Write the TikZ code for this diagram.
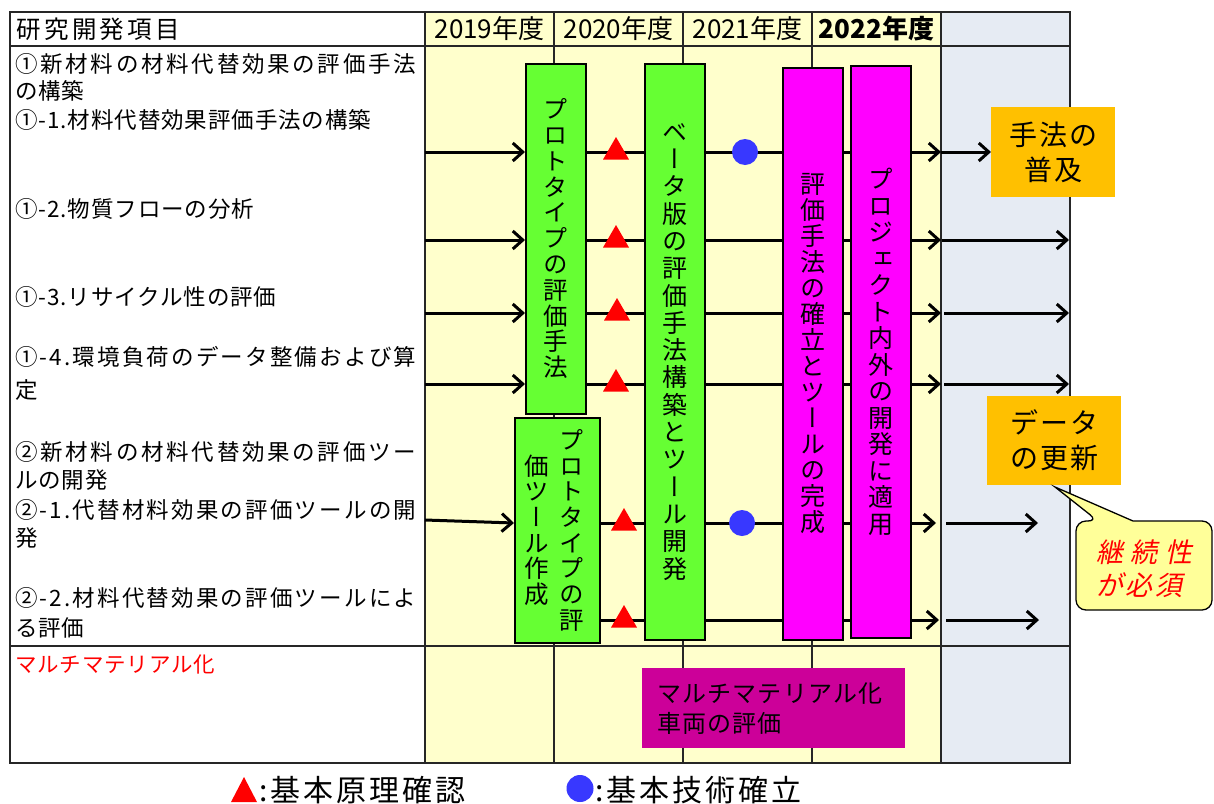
\documentclass[tikz,border=0pt]{standalone}
\usepackage{fontspec}
\setmainfont{Noto Sans CJK JP}
\newfontfamily\vfont[RawFeature=+vert]{Noto Sans CJK JP}
\newfontfamily\slfont[FakeSlant=0.2]{Noto Sans CJK JP}
\usetikzlibrary{arrows.meta,shapes.geometric}
\definecolor{cyel}{HTML}{FFFFCC}
\definecolor{cgray}{HTML}{E6EBF3}
\definecolor{cgreen}{HTML}{66FF33}
\definecolor{cmag}{HTML}{FF00FF}
\definecolor{cdmag}{HTML}{CC0099}
\definecolor{corange}{HTML}{FFC000}
\definecolor{ccall}{HTML}{FFFF99}
\definecolor{cblue}{HTML}{3838FF}
\makeatletter
\def\vt@loop#1{\ifx#1\@nil\else\hbox to 1em{\hss#1\hss}\expandafter\vt@loop\fi}
\newcommand\vstack[2]{\vbox{\baselineskip=#1\lineskiplimit=-\maxdimen\lineskip=0pt\vt@loop#2\@nil}}
\def\jt@loop#1{\ifx#1\@nil\else#1\hfil\expandafter\jt@loop\fi}
\newcommand\jline[1]{\hbox to 401pt{\addfontfeature{LetterSpace=0}\jt@loop#1\@nil\unskip}}
\makeatother
\newcommand\lsp[1]{\addfontfeature{LetterSpace=#1}}
\begin{document}
\begin{tikzpicture}[x=1pt,y=-1pt,
  grid/.style={line width=1.4pt, draw=black!85},
  colbox/.style={draw=black, line width=1.5pt, inner sep=0pt, anchor=north west},
  arr/.style={line width=3pt, -{Straight Barb[length=10pt,width=18pt]}},
  seg/.style={line width=3pt},
  tri/.style={regular polygon, regular polygon sides=3, fill=red, minimum size=30pt, inner sep=0pt},
  dot/.style={circle, fill=cblue, minimum size=26pt, inner sep=0pt},
  lbl/.style={anchor=west, inner sep=0pt, font=\fontsize{22.5}{26}\selectfont\lsp{4}},
  hdr/.style={inner sep=0pt, font=\fontsize{26}{30}\selectfont},
  obox/.style={fill=corange, inner sep=0pt, anchor=north west, align=center, font=\fontsize{28}{35}\selectfont\lsp{7}},
]
\useasboundingbox (0,0) rectangle (1214,803);
\fill[white] (0,0) rectangle (1214,803);
% backgrounds
\fill[cyel] (425,12) rectangle (941,763);
\fill[cgray] (941,12) rectangle (1070,763);
% grid
\draw[grid] (10,12) rectangle (1070,763);
\draw[grid] (10,46) -- (1070,46);
\draw[grid] (10,646) -- (1070,646);
\foreach \x in {425,554,683,812,941} \draw[grid] (\x,12) -- (\x,763);
% header
\node[inner sep=0pt, anchor=west, font=\fontsize{24.5}{28}\selectfont\lsp{14}] (h0) at (16,29) {研究開発項目};
\node[hdr] (h1) at (489.5,29) {2019年度};
\node[hdr] (h2) at (618.5,29) {2020年度};
\node[hdr] (h3) at (747.5,29) {2021年度};
\node[hdr, font=\fontsize{26}{30}\selectfont\bfseries] (h4) at (876.5,29) {2022年度};
% labels
\node[lbl] (l1a) at (15,64) {\jline{①新材料の材料代替効果の評価手法}};
\node[lbl] (l1b) at (15,91) {の構築};
\node[lbl] (l11) at (15,120) {①-1.材料代替効果評価手法の構築};
\node[lbl] (l12) at (15,209) {①-2.物質フローの分析};
\node[lbl] (l13) at (15,297) {①-3.リサイクル性の評価};
\node[lbl] (l14a) at (15,357) {\jline{①-4.環境負荷のデータ整備および算}};
\node[lbl] (l14b) at (15,390) {定};
\node[lbl] (l2a) at (15,452) {\jline{②新材料の材料代替効果の評価ツー}};
\node[lbl] (l2b) at (15,480) {ルの開発};
\node[lbl] (l21a) at (15,510) {\jline{②-1.代替材料効果の評価ツールの開}};
\node[lbl] (l21b) at (15,538) {発};
\node[lbl] (l22a) at (15,598) {\jline{②-2.材料代替効果の評価ツールによ}};
\node[lbl] (l22b) at (15,628) {る評価};
\node[lbl, text=red, font=\fontsize{21.5}{26}\selectfont\lsp{4}] (lm) at (15,664) {マルチマテリアル化};
% row starts and helpers
\coordinate (s1) at (425,152);
\coordinate (s2) at (425,240);
\coordinate (s3) at (425,313);
\coordinate (s4) at (425,384);
\coordinate (s5) at (425,523);
\coordinate (s6) at (425,620);
\coordinate (gx) at (941,0);
\coordinate (rx) at (1069,0);
% boxes
\node[colbox, fill=cgreen, minimum width=60, minimum height=350] (A) at (525,63)
  {\vfont\fontsize{24.5}{26}\selectfont\vstack{25.8pt}{プロトタイプの評価手法}};
\node[colbox, fill=cgreen, minimum width=85, minimum height=225] (B) at (514,417) {};
\node[inner sep=0pt] (Bt1) at ([xshift=14pt]B.center)
  {\vfont\fontsize{24.5}{26}\selectfont\vstack{25.7pt}{プロトタイプの評}};
\node[inner sep=0pt] (Bt2) at ([xshift=-21pt]B.center)
  {\vfont\fontsize{24.5}{26}\selectfont\vstack{25.7pt}{価ツール作成}};
\node[colbox, fill=cgreen, minimum width=60, minimum height=576] (C) at (644,63)
  {\vfont\fontsize{25}{27}\selectfont\vstack{27.3pt}{ベータ版の評価手法構築とツール開発}};
\node[colbox, fill=cmag, minimum width=60, minimum height=572] (D) at (782,67)
  {\vfont\fontsize{25}{27}\selectfont\vstack{26pt}{評価手法の確立とツールの完成}};
\node[colbox, fill=cmag, minimum width=60, minimum height=572] (E) at (850,65)
  {\vfont\fontsize{25}{27}\selectfont\vstack{26.5pt}{プロジェクト内外の開発に適用}};
\node[obox, minimum width=124, minimum height=90] (O1) at (991,107) {手法の\\普及};
\node[obox, minimum width=134, minimum height=89] (O2) at (987,396) {データ\\の更新};
% rows 1-4
\foreach \s/\e in {s1/O1, s2/rx, s3/rx, s4/rx} {
  \draw[arr] (\s) -- (\s -| A.west);
  \draw[seg] (\s -| A.east) -- (\s -| C.west);
  \draw[seg] (\s -| C.east) -- (\s -| D.west);
  \draw[seg] (\s -| D.east) -- (\s -| E.west);
  \draw[arr] (\s -| E.east) -- (\s -| gx);
}
\draw[arr] (s1 -| gx) -- (s1 -| O1.west);
\draw[arr] ([xshift=1pt]s2 -| gx) -- (s2 -| rx);
\draw[arr] ([xshift=3pt]s3 -| gx) -- (s3 -| rx);
\draw[arr] ([xshift=3pt]s4 -| gx) -- (s4 -| rx);
% rows 5-6
\coordinate (t5a) at (936,523);
\coordinate (t5b) at (946,523);
\coordinate (t5c) at (1038,523);
\coordinate (t6a) at (939,620);
\coordinate (t6b) at (946,620);
\coordinate (t6c) at (1039,620);
\draw[arr] ([yshift=3pt]s5) -- (s5 -| B.west);
\foreach \s/\a/\b/\c in {s5/t5a/t5b/t5c, s6/t6a/t6b/t6c} {
  \draw[seg] (\s -| B.east) -- (\s -| C.west);
  \draw[seg] (\s -| C.east) -- (\s -| D.west);
  \draw[seg] (\s -| D.east) -- (\s -| E.west);
  \draw[arr] (\s -| E.east) -- (\a);
  \draw[arr] (\b) -- (\c);
}
% milestones
\node[tri] (m1) at (616,152) {};
\node[tri] (m2) at (616,240) {};
\node[tri] (m3) at (617,313) {};
\node[tri] (m4) at (616,384) {};
\node[tri] (m5) at (624,523) {};
\node[tri] (m6) at (624,620) {};
\node[dot] (d1) at (745,152) {};
\node[dot] (d5) at (742,523) {};
% callout
\draw[line width=1.3pt, fill=ccall] (1098,521) -- (1055,487) -- (1133,521) [rounded corners=10pt] -- (1212,521) -- (1212,610) -- (1076,610) -- (1076,521) -- cycle;
\node[inner sep=0pt, anchor=north west, align=left, text=red, font=\slfont\fontsize{27}{33}\selectfont] (call) at (1096,540)
  {{\lsp{28}継続性}\\{\lsp{10}が必須}};
% bottom row box
\node[fill=cdmag, inner sep=0pt, anchor=north west, minimum width=263, minimum height=80, text width=233, align=left, font=\fontsize{24}{30}\selectfont\lsp{5}] (M) at (642,668) {マルチマテリアル化\\車両の評価};
% legend
\fill[red] (231,802) -- (257,802) -- (244,777) -- cycle;
\node[inner sep=0pt, anchor=west, font=\fontsize{30}{32}\selectfont\lsp{10}] (lg1) at (259,790) {:基本原理確認};
\fill[cblue] (580,788.5) circle[radius=13.5];
\node[inner sep=0pt, anchor=west, font=\fontsize{30}{32}\selectfont\lsp{10}] (lg2) at (595,790) {:基本技術確立};
\end{tikzpicture}
\end{document}
